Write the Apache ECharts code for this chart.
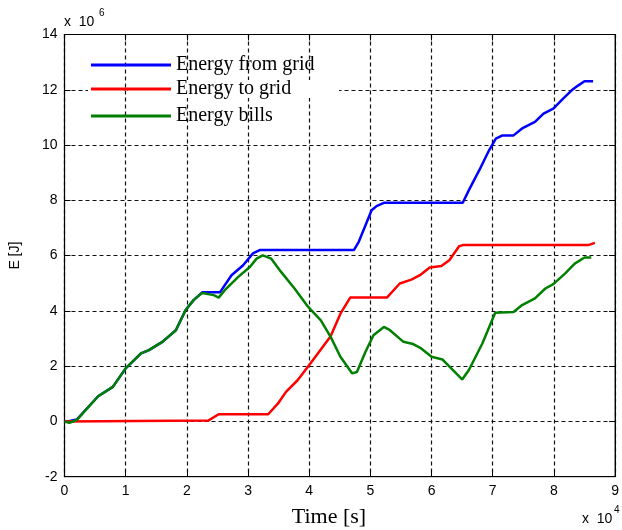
<!DOCTYPE html>
<html>
<head>
<meta charset="utf-8">
<script src="https://cdn.jsdelivr.net/npm/echarts@6/dist/echarts.min.js"></script>
<style>
  html, body { margin: 0; padding: 0; background: #fff; }
  #chart { width: 622px; height: 530px; }
</style>
</head>
<body>
<div id="chart"></div>
<script>
// Time in units of 1e4 s, energy in units of 1e6 J
const fromGridTime = [0, 0.05, 0.2, 0.55, 0.79, 1.0, 1.25, 1.38, 1.6, 1.82, 1.98, 2.11, 2.25, 2.54, 2.73, 2.92, 3.08, 3.19, 4.73, 4.81, 4.92, 5.02, 5.1, 5.22, 6.51, 6.61, 6.78, 6.94, 7.05, 7.16, 7.34, 7.48, 7.69, 7.83, 7.99, 8.15, 8.29, 8.4, 8.5, 8.64];
const fromGridEnergy = [0, 0, 0.07, 0.91, 1.25, 1.92, 2.46, 2.58, 2.88, 3.3, 4.03, 4.39, 4.67, 4.67, 5.29, 5.65, 6.08, 6.2, 6.2, 6.5, 7.1, 7.64, 7.79, 7.91, 7.91, 8.37, 9.09, 9.81, 10.23, 10.35, 10.35, 10.6, 10.84, 11.14, 11.32, 11.68, 11.98, 12.16, 12.31, 12.31];

const toGridTime = [0, 2.35, 2.52, 3.33, 3.49, 3.62, 3.81, 4.0, 4.19, 4.35, 4.51, 4.67, 5.27, 5.48, 5.67, 5.81, 5.97, 6.16, 6.29, 6.45, 6.51, 8.56, 8.67];
const toGridEnergy = [0, 0.03, 0.26, 0.26, 0.65, 1.07, 1.49, 2.04, 2.6, 3.08, 3.9, 4.48, 4.48, 4.99, 5.13, 5.29, 5.57, 5.62, 5.83, 6.34, 6.38, 6.38, 6.46];

const billsTime = [0, 0.08, 0.2, 0.55, 0.79, 1.0, 1.25, 1.38, 1.6, 1.82, 1.98, 2.11, 2.25, 2.44, 2.52, 2.62, 2.84, 3.03, 3.14, 3.24, 3.38, 3.54, 3.76, 3.98, 4.19, 4.35, 4.51, 4.7, 4.78, 4.92, 5.05, 5.22, 5.32, 5.54, 5.7, 5.83, 6.0, 6.18, 6.35, 6.5, 6.61, 6.83, 7.04, 7.34, 7.48, 7.69, 7.86, 7.99, 8.18, 8.34, 8.5, 8.61];
const billsEnergy = [0, -0.05, 0.05, 0.91, 1.25, 1.92, 2.46, 2.58, 2.88, 3.3, 4.03, 4.39, 4.65, 4.57, 4.48, 4.75, 5.23, 5.59, 5.89, 6.01, 5.89, 5.41, 4.81, 4.15, 3.66, 3.06, 2.34, 1.74, 1.79, 2.52, 3.12, 3.42, 3.3, 2.88, 2.8, 2.64, 2.34, 2.24, 1.86, 1.52, 1.86, 2.82, 3.93, 3.96, 4.21, 4.45, 4.81, 4.97, 5.35, 5.71, 5.93, 5.93];

const seriesNames = ['Energy from grid', 'Energy to grid', 'Energy bills'];
const seriesColors = ['#0000ff', '#ff0000', '#008000'];
const xTickLabels = ['0', '1', '2', '3', '4', '5', '6', '7', '8', '9'];

function pairs(xs, ys) { return xs.map((x, i) => [x, ys[i]]); }

const chart = echarts.init(document.getElementById('chart'), null, { renderer: 'canvas' });

const gridLine = { show: true, lineStyle: { color: '#111', width: 1.2, type: [4, 3] } };
const tickFont = { color: '#000', fontFamily: 'Liberation Sans, Arial, sans-serif', fontSize: 14 };

const legendBase = {
  left: 91, padding: 0, icon: 'rect', itemWidth: 80, itemHeight: 3,
  textStyle: { fontFamily: 'Liberation Serif, Times New Roman, serif', fontSize: 20, color: '#000' },
  selectedMode: false
};

chart.setOption({
  animation: false,
  backgroundColor: '#fff',
  grid: { left: 64.5, top: 34.5, right: 1.5, bottom: 53.3, show: true, borderColor: '#000', borderWidth: 1, backgroundColor: 'transparent' },
  legend: [
    Object.assign({}, legendBase, { top: 55, data: [seriesNames[0]] }),
    Object.assign({}, legendBase, { top: 79, data: [seriesNames[1]] }),
    Object.assign({}, legendBase, { top: 106, data: [seriesNames[2]] })
  ],
  xAxis: [
    {
      type: 'value', min: 0, max: 9, interval: 1,
      axisLine: { show: true, onZero: false, lineStyle: { color: '#000', width: 1.2 } },
      axisTick: { show: true, inside: true, length: 6, lineStyle: { color: '#000' } },
      axisLabel: Object.assign({ margin: 7, formatter: v => xTickLabels[Math.round(v)] }, tickFont),
      splitLine: gridLine
    },
    {
      type: 'value', position: 'top', min: 0, max: 9, interval: 1,
      axisLine: { show: true, onZero: false, lineStyle: { color: '#000', width: 1.2 } },
      axisTick: { show: true, inside: true, length: 6, lineStyle: { color: '#000' } },
      axisLabel: { show: false }, splitLine: { show: false }
    }
  ],
  yAxis: [
    {
      type: 'value', min: -2, max: 14, interval: 2,
      name: 'E [J]', nameLocation: 'middle', nameGap: 42, nameRotate: 90,
      nameTextStyle: { fontFamily: 'Liberation Sans, Arial, sans-serif', fontSize: 14, color: '#000' },
      axisLine: { show: true, onZero: false, lineStyle: { color: '#000', width: 1.2 } },
      axisTick: { show: true, inside: true, length: 6, lineStyle: { color: '#000' } },
      axisLabel: Object.assign({ margin: 7 }, tickFont),
      splitLine: gridLine
    },
    {
      type: 'value', position: 'right', min: -2, max: 14, interval: 2,
      axisLine: { show: true, onZero: false, lineStyle: { color: '#000', width: 1 } },
      axisTick: { show: true, inside: true, length: 6, lineStyle: { color: '#000' } },
      axisLabel: { show: false }, splitLine: { show: false }
    }
  ],
  graphic: [
    // legend box background hiding the gridline behind it
    { type: 'rect', z: 1, shape: { x: 88, y: 80, width: 36, height: 18 }, style: { fill: '#fff' } },
    { type: 'rect', z: 1, shape: { x: 128, y: 80, width: 211, height: 18 }, style: { fill: '#fff' } },
    // exponent labels
    { type: 'text', left: 64, top: 15, style: { text: 'x  10', font: '14px "Liberation Sans", Arial, sans-serif', fill: '#000' } },
    { type: 'text', left: 99, top: 8, style: { text: '6', font: '10px "Liberation Sans", Arial, sans-serif', fill: '#000' } },
    { type: 'text', left: 582, top: 512, style: { text: 'x  10', font: '14px "Liberation Sans", Arial, sans-serif', fill: '#000' } },
    { type: 'text', left: 614, top: 505, style: { text: '4', font: '10px "Liberation Sans", Arial, sans-serif', fill: '#000' } },
    // x-axis title
    { type: 'text', x: 329, y: 517, style: { text: 'Time [s]', font: '22px "Liberation Serif", "Times New Roman", serif', fill: '#000', align: 'center', verticalAlign: 'middle' } }
  ],
  series: [
    { name: seriesNames[0], type: 'line', data: pairs(fromGridTime, fromGridEnergy), showSymbol: false, symbol: 'none', color: seriesColors[0], lineStyle: { width: 2.5, color: seriesColors[0] } },
    { name: seriesNames[1], type: 'line', data: pairs(toGridTime, toGridEnergy), showSymbol: false, symbol: 'none', color: seriesColors[1], lineStyle: { width: 2.5, color: seriesColors[1] } },
    { name: seriesNames[2], type: 'line', data: pairs(billsTime, billsEnergy), showSymbol: false, symbol: 'none', color: seriesColors[2], lineStyle: { width: 2.5, color: seriesColors[2] } }
  ]
});
</script>
</body>
</html>
